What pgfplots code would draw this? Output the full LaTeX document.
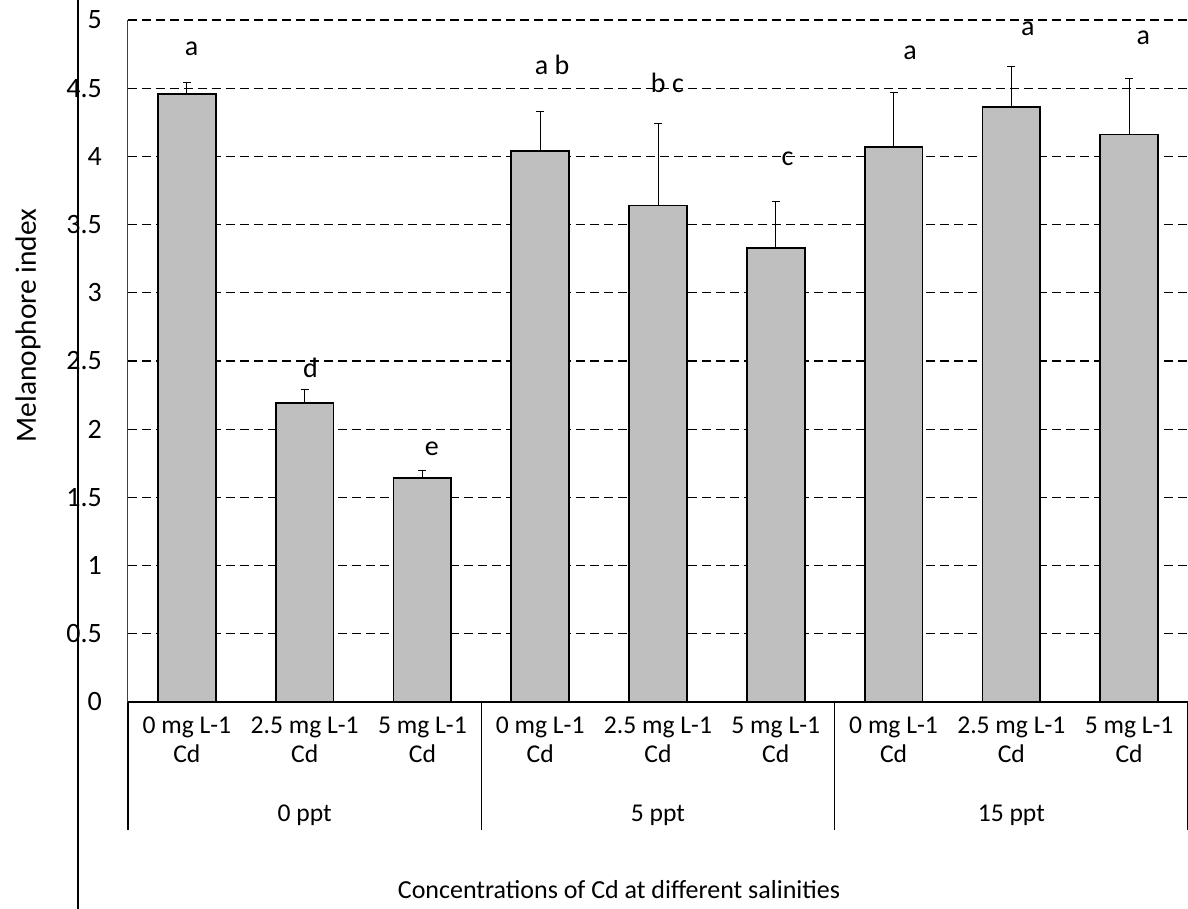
\documentclass[border=0pt]{standalone}
\usepackage{fontspec}
\setmainfont{Carlito}
\usepackage{pgfplots}
\pgfplotsset{compat=1.18}
\begin{document}
\begin{tikzpicture}
\path[use as bounding box] (-64pt,-103.5pt) rectangle (530pt,351pt);
\begin{axis}[
  scale only axis, width=530pt, height=341pt,
  at={(0pt,0pt)}, anchor=south west,
  xmin=-0.5, xmax=8.5, ymin=0, ymax=5,
  clip=false,
  axis x line=bottom, axis y line=left,
  axis line style={-},
  x axis line style={line width=0.9pt, black},
  y axis line style={line width=0.5pt, black!75},
  /pgf/number format/assume math mode=true,
  ytick={0,0.5,1,1.5,2,2.5,3,3.5,4,4.5,5},
  yticklabel style={font=\fontsize{14}{16}\selectfont, xshift=-9.5pt},
  xtick={0,1,2,3,4,5,6,7,8},
  xticklabels={{0 mg L-1\\Cd},{2.5 mg L-1\\Cd},{5 mg L-1\\Cd},{0 mg L-1\\Cd},{2.5 mg L-1\\Cd},{5 mg L-1\\Cd},{0 mg L-1\\Cd},{2.5 mg L-1\\Cd},{5 mg L-1\\Cd}},
  xticklabel style={align=center, font=\fontsize{12.8}{14.5}\selectfont, yshift=-4pt},
  tick style={draw=none},
  major tick length=0pt,
  ymajorgrids,
  grid style={black, line width=0.6pt, dash pattern=on 4.5pt off 2.5pt},
]
\addplot[ybar, bar width=0.49, fill=black!25, draw=black, line width=0.9pt,
  error bars/.cd, y dir=plus, y explicit,
  error bar style={line width=0.5pt, black},
  error mark options={rotate=90, mark size=2pt, line width=0.5pt, black}]
coordinates {
  (0,4.46) +- (0,0.08)
  (1,2.19) +- (0,0.10)
  (2,1.64) +- (0,0.06)
  (3,4.04) +- (0,0.29)
  (4,3.64) +- (0,0.60)
  (5,3.33) +- (0,0.34)
  (6,4.07) +- (0,0.40)
  (7,4.36) +- (0,0.30)
  (8,4.16) +- (0,0.41)
};
\addplot[draw=none, mark=none, nodes near coords, point meta=explicit symbolic,
  every node near coord/.append style={anchor=base, font=\fontsize{14}{16}\selectfont, black}]
coordinates {
  (0.04,4.74) [a]
  (1.05,2.38) [d]
  (2.08,1.81) [e]
  (3.10,4.60) [a b]
  (4.08,4.47) [b c]
  (5.10,3.93) [c]
  (6.14,4.71) [a]
  (7.14,4.89) [a]
  (8.12,4.82) [a]
};
% group separators
\draw[line width=0.6pt] (axis cs:-0.5,0) -- ([yshift=-64pt]axis cs:-0.5,0);
\draw[line width=0.6pt] (axis cs:2.5,0) -- ([yshift=-64pt]axis cs:2.5,0);
\draw[line width=0.6pt] (axis cs:5.5,0) -- ([yshift=-64pt]axis cs:5.5,0);
\draw[line width=0.6pt] (axis cs:8.5,0) -- ([yshift=-64pt]axis cs:8.5,0);
\node[font=\fontsize{12.8}{14}\selectfont] at ([yshift=-56.5pt]axis cs:1,0) {0 ppt};
\node[font=\fontsize{12.8}{14}\selectfont] at ([yshift=-56.5pt]axis cs:4,0) {5 ppt};
\node[font=\fontsize{12.8}{14}\selectfont] at ([yshift=-56.5pt]axis cs:7,0) {15 ppt};
\node[rotate=90, font=\fontsize{14.7}{16}\selectfont] at ([xshift=-50pt]axis cs:-0.5,2.76) {Melanophore index};
\node[font=\fontsize{13}{15}\selectfont] at ([xshift=245.5pt, yshift=-94pt]rel axis cs:0,0) {Concentrations of Cd at different salinities};
\draw[line width=0.8pt] ([xshift=-25pt, yshift=-110pt]rel axis cs:0,0) -- ([xshift=-25pt, yshift=20pt]rel axis cs:0,1);
\end{axis}
\end{tikzpicture}
\end{document}
